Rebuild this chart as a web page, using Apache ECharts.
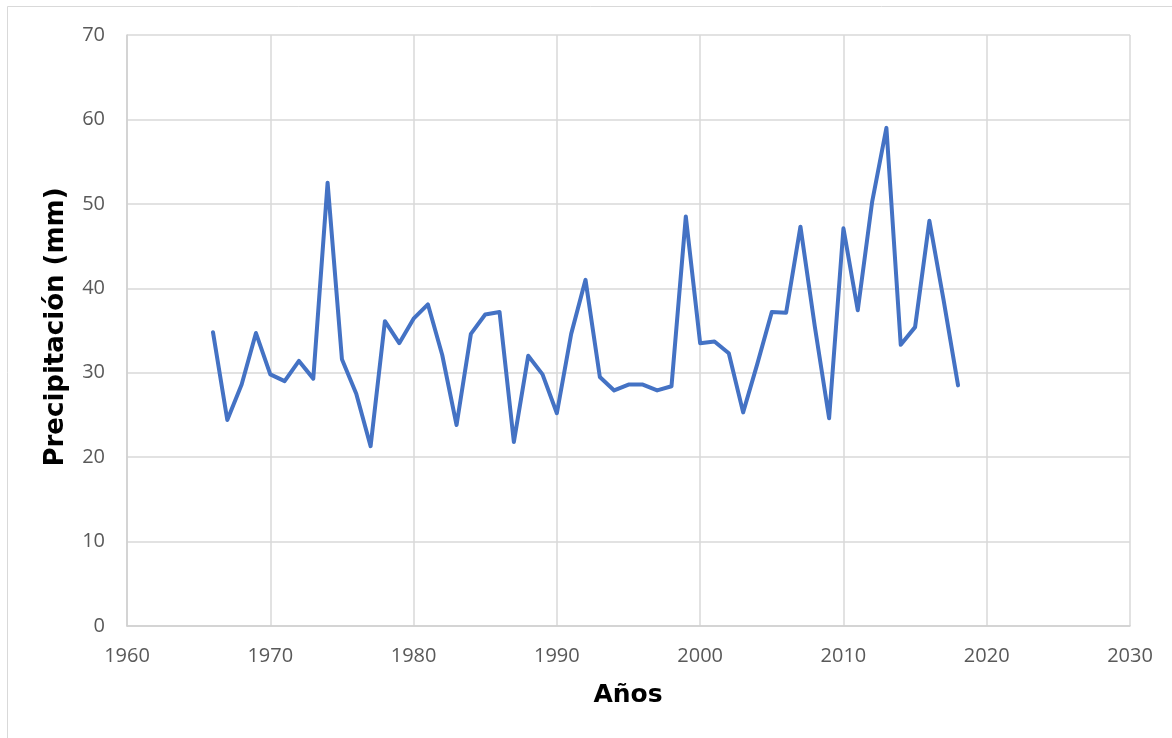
<!DOCTYPE html>
<html>
<head>
<meta charset="utf-8">
<style>
  html, body { margin: 0; padding: 0; background: #ffffff; }
  #chart { width: 1172px; height: 738px; }
</style>
<script src="https://cdn.jsdelivr.net/npm/echarts@6/dist/echarts.min.js"></script>
</head>
<body>
<div id="chart"></div>
<script>
// Annual precipitation series
const years = [
  1966, 1967, 1968, 1969, 1970, 1971, 1972, 1973, 1974, 1975,
  1976, 1977, 1978, 1979, 1980, 1981, 1982, 1983, 1984, 1985,
  1986, 1987, 1988, 1989, 1990, 1991, 1992, 1993, 1994, 1995,
  1996, 1997, 1998, 1999, 2000, 2001, 2002, 2003, 2004, 2005,
  2006, 2007, 2008, 2009, 2010, 2011, 2012, 2013, 2014, 2015,
  2016, 2017, 2018
];
const precipitation = [
  34.8, 24.4, 28.6, 34.7, 29.8, 29.0, 31.4, 29.3, 52.5, 31.6,
  27.5, 21.3, 36.1, 33.5, 36.4, 38.1, 32.1, 23.8, 34.6, 36.9,
  37.2, 21.8, 32.0, 29.8, 25.2, 34.6, 41.0, 29.5, 27.9, 28.6,
  28.6, 27.9, 28.4, 48.5, 33.5, 33.7, 32.3, 25.3, 31.1, 37.2,
  37.1, 47.3, 35.5, 24.6, 47.1, 37.4, 50.2, 59.0, 33.3, 35.4,
  48.0, 38.5, 28.5
];
const xTitle = 'Años';
const yTitle = 'Precipitación (mm)';

const chart = echarts.init(document.getElementById('chart'), null, { renderer: 'canvas' });

const tickFont = { color: '#595959', fontFamily: 'Open Sans', fontSize: 20 };

chart.setOption({
  animation: false,
  backgroundColor: '#ffffff',
  grid: { left: 127, right: 42, top: 35, bottom: 112, containLabel: false },
  xAxis: {
    type: 'value',
    min: 1960, max: 2030, interval: 10,
    axisLine: { show: true, lineStyle: { color: '#cfcfcf', width: 1.5 } },
    axisTick: { show: false },
    axisLabel: Object.assign({ margin: 20, formatter: v => String(v) }, tickFont),
    splitLine: { show: true, lineStyle: { color: '#d9d9d9', width: 1.5 } }
  },
  yAxis: {
    type: 'value',
    min: 0, max: 70, interval: 10,
    axisLine: { show: true, lineStyle: { color: '#cfcfcf', width: 1.5 } },
    axisTick: { show: false },
    axisLabel: Object.assign({ margin: 22 }, tickFont),
    splitLine: { show: true, lineStyle: { color: '#d9d9d9', width: 1.5 } }
  },
  series: [{
    type: 'line',
    data: years.map((y, i) => [y, precipitation[i]]),
    showSymbol: false,
    symbol: 'none',
    lineStyle: { color: '#4472C4', width: 4, join: 'round', cap: 'round' }
  }],
  graphic: [
    {
      type: 'rect',
      shape: { x: 7.5, y: 6.5, width: 1300, height: 900 },
      style: { fill: 'none', stroke: '#d9d9d9', lineWidth: 1 },
      silent: true, z: -1
    },
    {
      type: 'text',
      x: 628, y: 695,
      style: {
        text: xTitle, fontFamily: 'DejaVu Sans', fontWeight: 'bold', fontSize: 25,
        fill: '#000000', align: 'center', verticalAlign: 'middle'
      }
    },
    {
      type: 'text',
      x: 56, y: 327,
      rotation: Math.PI / 2,
      style: {
        text: yTitle, fontFamily: 'DejaVu Sans', fontWeight: 'bold', fontSize: 26,
        fill: '#000000', align: 'center', verticalAlign: 'middle'
      }
    }
  ]
});
</script>
</body>
</html>
